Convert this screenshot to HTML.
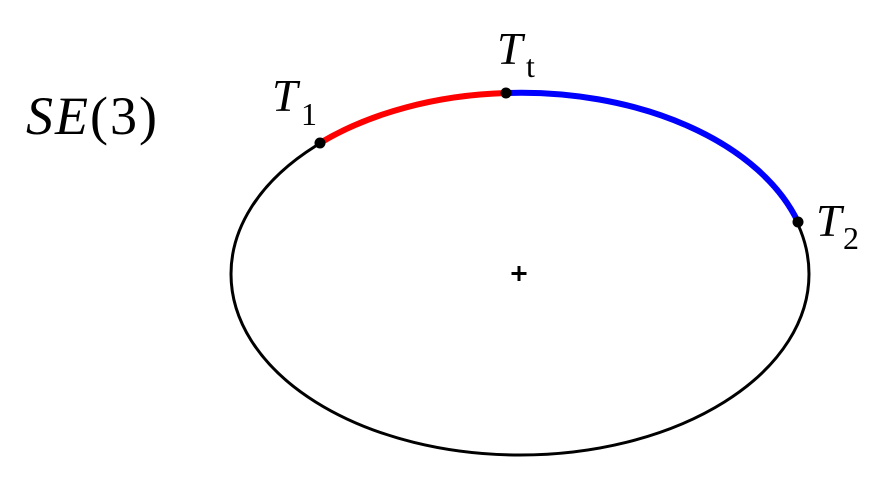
<!DOCTYPE html>
<html><head><meta charset="utf-8"><style>
html,body{margin:0;padding:0;background:#fff;}
svg{display:block;}
text{font-family:"Liberation Serif",serif;fill:#000;}
</style></head><body>
<svg width="896" height="483" viewBox="0 0 896 483">
<ellipse cx="520" cy="274" rx="289" ry="181" fill="none" stroke="#000" stroke-width="3"/>
<path d="M320 143 A289 181 0 0 1 506 93" fill="none" stroke="#ff0000" stroke-width="6"/>
<path d="M506 93 A289 181 0 0 1 798 222" fill="none" stroke="#0000ff" stroke-width="6"/>
<circle cx="320" cy="143" r="5.5" fill="#000"/>
<circle cx="506" cy="93" r="5.5" fill="#000"/>
<circle cx="798" cy="222" r="5.5" fill="#000"/>
<path d="M519 266 V281 M511.5 273.5 H526.5" stroke="#000" stroke-width="3"/>
<text x="26" y="134" font-size="54" textLength="131" lengthAdjust="spacing"><tspan font-style="italic">SE</tspan>(3)</text>
<text x="272" y="111" font-size="46" font-style="italic">T</text>
<text x="301" y="125" font-size="32">1</text>
<text x="497" y="64" font-size="46" font-style="italic">T</text>
<text x="526" y="77" font-size="32">t</text>
<text x="816" y="236" font-size="46" font-style="italic">T</text>
<text x="843" y="249" font-size="32">2</text>
</svg>
</body></html>
